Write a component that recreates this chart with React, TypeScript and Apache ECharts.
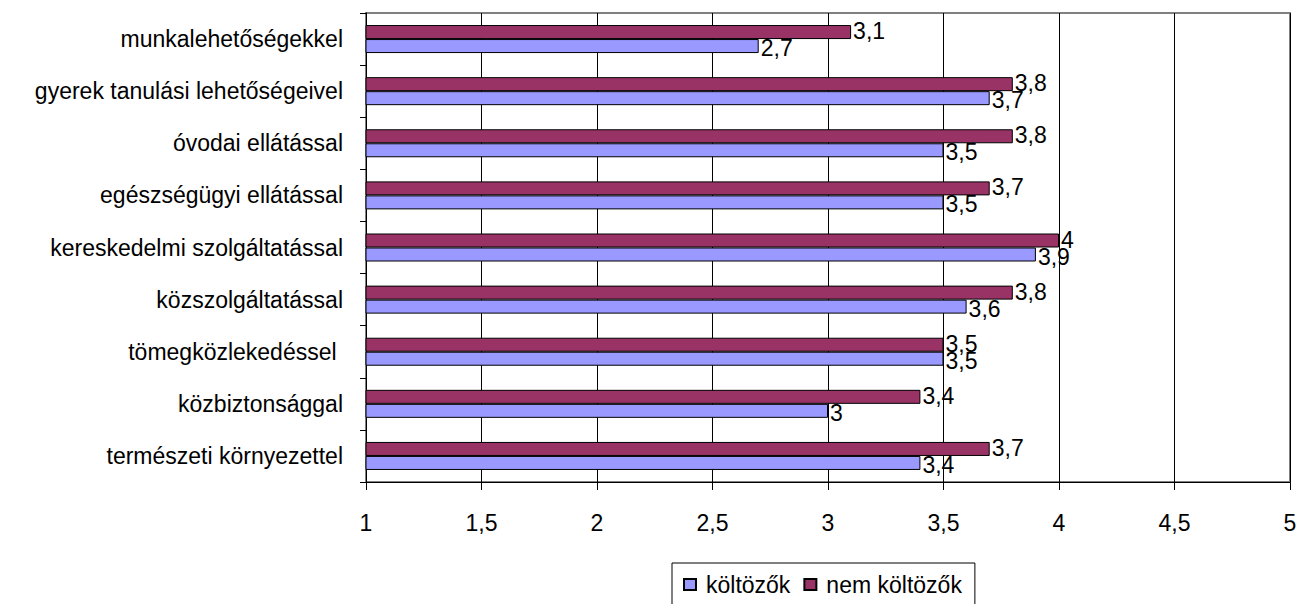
import React, { useEffect, useRef } from "react";
import * as echarts from "echarts";

// Categories listed bottom to top (ECharts category y-axis starts at the bottom)
const categories = [
  "természeti környezettel",
  "közbiztonsággal",
  "tömegközlekedéssel ",
  "közszolgáltatással",
  "kereskedelmi szolgáltatással",
  "egészségügyi ellátással",
  "óvodai ellátással",
  "gyerek tanulási lehetőségeivel",
  "munkalehetőségekkel",
];
const koltozok = [3.4, 3, 3.5, 3.6, 3.9, 3.5, 3.5, 3.7, 2.7];
const nemKoltozok = [3.7, 3.4, 3.5, 3.8, 4, 3.7, 3.8, 3.8, 3.1];
const seriesNames = ["költözők", "nem költözők"];
const xMin = 1;
const xMax = 5;
const xInterval = 0.5;

const FONT = "'Liberation Sans', Arial, sans-serif";
const FS = 23;
const comma = (v: number) => String(v).replace(".", ",");

export default function App() {
  const ref = useRef<HTMLDivElement>(null);
  useEffect(() => {
    if (!ref.current) return;
    const chart = echarts.init(ref.current, undefined, { renderer: "svg" });
    const labelStyle = {
      show: true,
      position: "right" as const,
      distance: 2,
      fontSize: FS,
      fontFamily: FONT,
      color: "#000",
      formatter: (p: any) => comma(p.value),
    };
    chart.setOption({
      animation: false,
      backgroundColor: "#fff",
      textStyle: { fontFamily: FONT },
      grid: {
        left: 366,
        right: 22,
        top: 13,
        bottom: 122,
        show: true,
        borderColor: "#808080",
        borderWidth: 2,
        backgroundColor: "transparent",
      },
      legend: {
        left: 672,
        top: 563,
        orient: "horizontal",
        data: seriesNames,
        icon: "rect",
        itemWidth: 12,
        itemHeight: 11,
        itemGap: 13,
        padding: [10, 13, 10, 11],
        borderColor: "#000",
        borderWidth: 1,
        textStyle: { fontSize: FS, fontFamily: FONT, color: "#000", padding: [0, 0, 0, 5] },
      },
      xAxis: {
        type: "value",
        min: xMin,
        max: xMax,
        interval: xInterval,
        axisLine: { show: true, lineStyle: { color: "#000", width: 1 } },
        axisTick: { show: true, length: 8, lineStyle: { color: "#000" } },
        splitLine: { show: true, lineStyle: { color: "#000", width: 1 } },
        axisLabel: {
          fontSize: FS,
          fontFamily: FONT,
          color: "#000",
          margin: 29,
          formatter: (v: number) => comma(v),
        },
      },
      yAxis: {
        type: "category",
        data: categories,
        axisLine: { show: true, lineStyle: { color: "#000", width: 1 } },
        axisTick: { show: true, length: 6, lineStyle: { color: "#000" } },
        axisLabel: {
          fontSize: FS,
          fontFamily: FONT,
          color: "#000",
          margin: 23,
        },
      },
      series: [
        {
          name: seriesNames[1],
          type: "bar",
          data: nemKoltozok,
          barWidth: 14,
          barGap: "0%",
          itemStyle: { color: "#993366", borderColor: "#000", borderWidth: 1 },
          label: { ...labelStyle, offset: [0, -1] },
        },
        {
          name: seriesNames[0],
          type: "bar",
          data: koltozok,
          barWidth: 14,
          barGap: "0%",
          itemStyle: { color: "#9999FF", borderColor: "#000", borderWidth: 1 },
          label: { ...labelStyle, offset: [0, 2] },
        },
      ],
    });
    return () => chart.dispose();
  }, []);
  return (
    <div
      ref={ref}
      style={{ position: "fixed", left: 0, top: 0, width: 1312, height: 604 }}
    />
  );
}
